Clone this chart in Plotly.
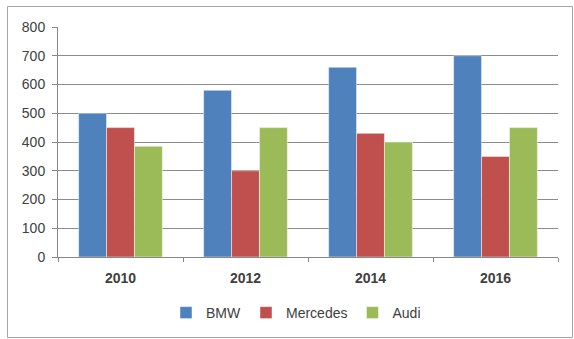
import plotly.graph_objects as go

years = ["2010", "2012", "2014", "2016"]
bmw = [500, 580, 660, 700]
mercedes = [450, 300, 430, 350]
audi = [385, 450, 400, 450]
series_names = ["BMW", "Mercedes", "Audi"]
colors = ["#4F81BD", "#C0504D", "#9BBB59"]
y_ticks = [0, 100, 200, 300, 400, 500, 600, 700, 800]

fig = go.Figure()
for name, vals, col in zip(series_names, [bmw, mercedes, audi], colors):
    fig.add_trace(go.Bar(
        x=years, y=vals, name=name,
        marker=dict(color=col, line=dict(color="rgba(255,255,255,0.6)", width=0.8)),
    ))

W, H = 574, 339
L, R, T, B = 58, 16, 27, 82
pw, ph = W - L - R, H - T - B

def px_x(p):
    return (p - L) / pw

def px_y(p):
    return (H - B - p) / ph

fig.update_layout(
    width=W, height=H,
    margin=dict(l=L, r=R, t=T, b=B, autoexpand=False),
    paper_bgcolor="white", plot_bgcolor="white",
    barmode="group", bargap=0.33, bargroupgap=0,
    font=dict(family="Liberation Sans, Arial, sans-serif", size=14, color="#404040"),
    showlegend=True,
    legend=dict(orientation="h", x=px_x(296), xanchor="center", y=px_y(313), yanchor="middle",
                font=dict(size=14, color="#404040"), itemwidth=30, traceorder="normal"),
    shapes=[dict(type="rect", xref="paper", yref="paper",
                 x0=px_x(7.5), x1=px_x(572.5), y0=px_y(337.5), y1=px_y(6.5),
                 line=dict(color="#A6A6A6", width=1), fillcolor="rgba(0,0,0,0)", layer="below")],
)
fig.update_xaxes(
    type="category", showgrid=False, showline=True, linecolor="#888888", linewidth=1,
    ticks="outside", tickson="boundaries", ticklen=4, tickcolor="#888888",
    ticklabelstandoff=8,
    tickfont=dict(size=14, color="#404040", weight="bold"),
)
fig.update_yaxes(
    range=[0, 800], tickvals=y_ticks, showgrid=True, gridcolor="#8C8C8C", gridwidth=1,
    showline=True, linecolor="#888888", linewidth=1, ticks="outside", ticklen=5,
    tickcolor="#888888", zeroline=False, ticklabelstandoff=4,
    tickfont=dict(size=14, color="#404040"),
)
fig.write_html("out.html", config={"displayModeBar": False},
               post_script="document.body.style.margin='0';")
